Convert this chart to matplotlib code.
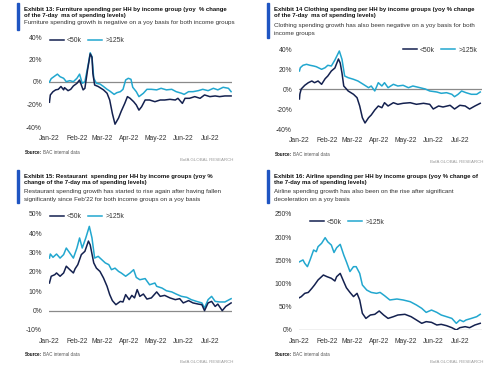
import matplotlib
matplotlib.use("Agg")
import matplotlib.pyplot as plt

W, H = 500, 371
NAVY = "#14214f"
CYAN = "#22a7cf"
BAR = "#1f55c2"
GREY = "#8a8a8a"

REG = ["Liberation Sans", "DejaVu Sans"]

month_days = [0, 31, 59, 90, 120, 151, 181]
month_labels = ["Jan-22", "Feb-22", "Mar-22", "Apr-22", "May-22", "Jun-22", "Jul-22"]

# ---- Exhibit 13: Furniture ----
furn_lo_x = [0, 1, 4, 7, 10, 13, 16, 17, 21, 24, 27, 31, 34, 36, 38, 40, 43, 46, 48, 49, 51, 55, 61, 65, 68, 71, 74, 78, 81, 85, 88, 91, 95, 98, 101, 104, 108, 113, 119, 125, 130, 136, 142, 145, 150, 153, 158, 164, 170, 175, 181, 187, 192, 198, 205]
furn_lo_y = [-18, -11.5, -8.6, -7, -6.5, -4, -7, -5, -7.7, -6.5, -3.5, -1.2, 1.8, -2.7, -7, -5.6, 10.7, 25, 22, 7.7, -2.7, -4, -7, -10, -16, -28, -37.5, -32, -26, -19, -13, -14.5, -17.5, -20.4, -25, -22, -16, -16, -17.5, -16, -16, -15.4, -16, -14.5, -19, -14.5, -14.5, -13, -14.5, -11.5, -13, -12.4, -13, -12.4, -12.4]
furn_hi_x = [0, 2, 6, 9, 12, 16, 19, 23, 27, 31, 34, 37, 40, 44, 46, 48, 50, 53, 57, 61, 65, 68, 73, 76, 80, 83, 86, 89, 92, 94, 98, 101, 106, 110, 115, 121, 126, 132, 138, 143, 149, 152, 157, 162, 168, 173, 179, 185, 190, 196, 202, 205]
furn_hi_y = [0, 3, 5.3, 7, 4.7, 3.3, 0.3, 1.2, 0.3, 3.3, 7, -1.2, 0.3, 16.6, 26, 22.5, 3.3, -1.2, -1.8, -4, -6.5, -8, -11, -9.5, -8.6, -6.5, 1.8, 3.3, 2.4, -4.7, -8.6, -13, -10, -6.5, -6.5, -7, -5.6, -7, -6.5, -8.6, -10, -11, -8.6, -8.6, -7.7, -6.5, -7.7, -5.6, -7, -4.7, -5.6, -8.6]

# ---- Exhibit 14: Clothing ----
cloth_lo_x = [0, 0.5, 2, 6, 10, 14, 17, 21, 25, 29, 32, 36, 40, 44, 46, 48, 50, 55, 61, 65, 68, 71, 74, 78, 81, 85, 89, 93, 96, 100, 106, 111, 117, 125, 132, 140, 147, 151, 157, 162, 170, 175, 181, 187, 192, 198, 204]
cloth_lo_y = [-10, -5, 0, 3.7, 6.3, 8, 6.3, 8, 4.7, 10.3, 13, 18, 21, 30, 26, 16, 3, -2, -5.3, -8.7, -17, -28.7, -34, -28.7, -26, -21, -17, -18.7, -13.7, -17, -13.7, -15.3, -14.3, -13.7, -15.3, -14.3, -15.3, -20, -17, -18, -16.3, -20, -16.3, -17, -20, -17, -14.3]
cloth_hi_x = [0, 1, 4, 8, 12, 16, 19, 25, 29, 32, 36, 40, 45, 48, 51, 55, 61, 66, 72, 78, 81, 85, 89, 93, 96, 100, 106, 111, 117, 123, 128, 136, 142, 147, 155, 160, 166, 172, 175, 179, 183, 188, 194, 200, 204]
cloth_hi_y = [18, 21.3, 23.7, 24.7, 23.7, 23, 22.3, 19.7, 21.3, 23.7, 23, 29, 38, 29.7, 13, 11.3, 9.7, 8, 4.7, 1.3, 3, -2, 6.3, 3, 6.3, 1.3, 4.7, 3, 3.7, 1.3, 3, 1.3, 0, -2, -3, -4.3, -3.7, -5.3, -7.7, -5.3, -2, -3.7, -5.3, -5.3, -3]

# ---- Exhibit 15: Restaurant ----
rest_lo_x = [0, 2, 6, 8, 12, 16, 19, 23, 27, 29, 32, 36, 40, 44, 46, 50, 53, 57, 61, 65, 68, 71, 75, 80, 83, 86, 90, 93, 96, 99, 102, 106, 110, 115, 121, 125, 130, 136, 142, 147, 151, 157, 162, 168, 172, 175, 179, 183, 187, 190, 195, 199, 205]
rest_lo_y = [14.3, 17.8, 18.6, 19.5, 17.8, 19.5, 23, 21.2, 19.5, 21.7, 23.8, 29, 30.7, 36, 34, 24.7, 22, 20.3, 16.9, 12.6, 8.3, 5.2, 3.1, 4.8, 4.5, 8.3, 5.7, 7.9, 6.6, 10.9, 7.4, 8.6, 6, 6.6, 9.7, 7.4, 7.9, 6.6, 5.7, 6.2, 4, 5.2, 4, 3.4, 3.1, 0, 4, 4.8, 2.2, 3.4, 0, 2.2, 4]
rest_hi_x = [0, 1, 4, 8, 12, 16, 19, 23, 27, 31, 34, 37, 41, 45, 48, 51, 55, 59, 63, 67, 70, 74, 78, 81, 86, 91, 95, 98, 102, 108, 113, 119, 121, 127, 132, 138, 143, 149, 155, 160, 166, 172, 175, 179, 183, 187, 192, 198, 205]
rest_hi_y = [27.2, 29.3, 27.6, 29.3, 27.2, 29, 32.4, 29.8, 27.2, 32.4, 37.6, 32.4, 37.6, 43.6, 37.6, 27.2, 28.1, 26.4, 24.7, 23.8, 21.2, 22, 20.3, 19.5, 17.8, 19.5, 21.2, 17.2, 16, 16.6, 13.4, 14.3, 12.6, 11.7, 10.3, 9.7, 8.6, 7.4, 6.9, 5.7, 4.8, 4, 1.4, 5.7, 7.4, 4.8, 4.5, 4.5, 6.2]

# ---- Exhibit 16: Airline ----
air_lo_x = [0, 2, 6, 10, 14, 17, 21, 27, 31, 36, 40, 42, 46, 50, 53, 57, 61, 65, 68, 71, 75, 80, 85, 90, 95, 100, 106, 111, 119, 126, 132, 138, 143, 149, 155, 160, 166, 172, 177, 181, 187, 192, 198, 204]
air_lo_y = [69.7, 71.8, 79, 81, 89.8, 97, 107.8, 118.5, 115, 111.4, 105.6, 115, 122, 104, 91, 81, 72, 79, 64.7, 36, 25, 32.3, 33.8, 41, 32.3, 25, 28.7, 32.3, 33.8, 28.7, 21.6, 14.4, 18, 16.5, 10.8, 12.2, 9.3, 5, 0, 5, 7.2, 5, 10.8, 14.4]
air_hi_x = [0, 4, 6, 9, 12, 16, 19, 21, 25, 29, 32, 36, 39, 42, 46, 50, 53, 57, 61, 64, 68, 71, 76, 81, 87, 91, 96, 102, 110, 117, 125, 132, 138, 143, 149, 155, 160, 166, 172, 177, 181, 185, 188, 194, 200, 204]
air_hi_y = [147, 151, 143.7, 136.5, 151, 172.4, 168.8, 179.6, 186.8, 199, 190, 183, 167, 177.4, 184.6, 161.6, 147, 126, 136.5, 136.5, 122, 97, 86, 81, 79, 81, 74, 64.7, 66.8, 64.7, 61, 53.9, 46.7, 38, 43, 38, 32.3, 28.7, 25, 14.4, 21.6, 18, 21.6, 25, 28.7, 33.8]

fig = plt.figure(figsize=(W / 100, H / 100), dpi=100)
fig.patch.set_facecolor("white")


def fx(x):
    return x / W


def fy(y):
    return 1 - y / H


def add_ax(x0, y0, x1, y1):
    return fig.add_axes([fx(x0), fy(y1), (x1 - x0) / W, (y1 - y0) / H])


def panel(x_off, y_top, ax_box, ylim, yticks, ylabels, lo, hi, title, subtitle,
          bar_end, sub_y, leg_xy, src_y, bofa_y):
    fig.patches.append(plt.Rectangle((fx(x_off + 17), fy(bar_end)), 2.3 / W,
                                     (bar_end - y_top) / H, transform=fig.transFigure,
                                     color=BAR, zorder=5))
    for i, line in enumerate(title):
        fig.text(fx(x_off + 24), fy(y_top + 6 + 6.5 * i), line, fontsize=4.35,
                 fontweight="bold", family=REG, va="center", ha="left", color="#111111")
    for i, line in enumerate(subtitle):
        fig.text(fx(x_off + 24), fy(sub_y + 8 * i), line, fontsize=4.5,
                 family=REG, va="center", ha="left", color="#333333")
    ax = add_ax(*ax_box)
    ax.set_xlim(-0.5, 206)
    ax.set_ylim(*ylim)
    ax.axhline(0, color=GREY, lw=0.9, zorder=1)
    l1, = ax.plot(lo[0], lo[1], color=NAVY, lw=1.1, zorder=3)
    l2, = ax.plot(hi[0], hi[1], color=CYAN, lw=1.1, zorder=2)
    for s in ax.spines.values():
        s.set_visible(False)
    ax.set_yticks(yticks)
    ax.set_yticklabels(ylabels, family=REG, fontsize=4.9, color="#333333")
    ax.set_xticks(month_days)
    ax.set_xticklabels(month_labels, family=REG, fontsize=4.9, color="#333333")
    ax.tick_params(length=0)
    ax.tick_params(axis="y", pad=5)
    ax.tick_params(axis="x", pad=6)
    ax.patch.set_alpha(0)
    fig.legend([l1, l2], ["<50k", ">125k"], loc="center left",
               bbox_to_anchor=(fx(leg_xy[0]), fy(leg_xy[1])), ncol=2, frameon=False,
               prop={"family": REG, "size": 4.9}, handlelength=2.1, handletextpad=0.4,
               columnspacing=0.9, borderpad=0, borderaxespad=0, labelcolor="#333333")
    fig.text(fx(x_off + 25), fy(src_y), "Source:", fontsize=3.3, fontweight="bold",
             family=REG, va="center", ha="left", color="#111111")
    fig.text(fx(x_off + 43), fy(src_y), "BAC internal data", fontsize=3.3,
             family=REG, va="center", ha="left", color="#555555")
    fig.text(fx(x_off + 233), fy(bofa_y), "BofA GLOBAL RESEARCH", fontsize=3.2,
             family=REG, va="center", ha="right", color="#999999")
    return ax


panel(0, 3, (49, 37, 232, 127), (-40, 40), [-40, -20, 0, 20, 40],
      ["-40%", "-20%", "0%", "20%", "40%"],
      (furn_lo_x, furn_lo_y), (furn_hi_x, furn_hi_y),
      ["Exhibit 13: Furniture spending per HH by income group (yoy  % change",
       "of the 7-day  ma of spending levels)"],
      ["Furniture spending growth is negative on a yoy basis for both income groups"],
      30, 22.5, (50, 41), 153, 160)

panel(250, 3, (299, 49, 482, 129), (-40, 40), [-40, -20, 0, 20, 40],
      ["-40%", "-20%", "0%", "20%", "40%"],
      (cloth_lo_x, cloth_lo_y), (cloth_hi_x, cloth_hi_y),
      ["Exhibit 14 Clothing spending per HH by income groups (yoy % change",
       "of the 7-day  ma of spending levels)"],
      ["Clothing spending growth has also been negative on a yoy basis for both",
       "income groups"],
      38, 26, (403, 50), 154, 162)

panel(0, 170, (49, 214, 232, 330), (-10, 50), [-10, 0, 10, 20, 30, 40, 50],
      ["-10%", "0%", "10%", "20%", "30%", "40%", "50%"],
      (rest_lo_x, rest_lo_y), (rest_hi_x, rest_hi_y),
      ["Exhibit 15: Restaurant  spending per HH by income groups (yoy %",
       "change of the 7-day ma of spending levels)"],
      ["Restaurant spending growth has started to rise again after having fallen",
       "significantly since Feb'22 for both income groups on a yoy basis"],
      203, 191, (50, 217), 355, 362)

panel(250, 170, (299, 214, 482, 330), (0, 250), [0, 50, 100, 150, 200, 250],
      ["0%", "50%", "100%", "150%", "200%", "250%"],
      (air_lo_x, air_lo_y), (air_hi_x, air_hi_y),
      ["Exhibit 16: Airline spending per HH by income groups (yoy % change of",
       "the 7-day ma of spending levels)"],
      ["Airline spending growth has also been on the rise after significant",
       "deceleration on a yoy basis"],
      203, 191, (310, 222), 355, 362)

fig.savefig("out.png", dpi=100, facecolor="white")
